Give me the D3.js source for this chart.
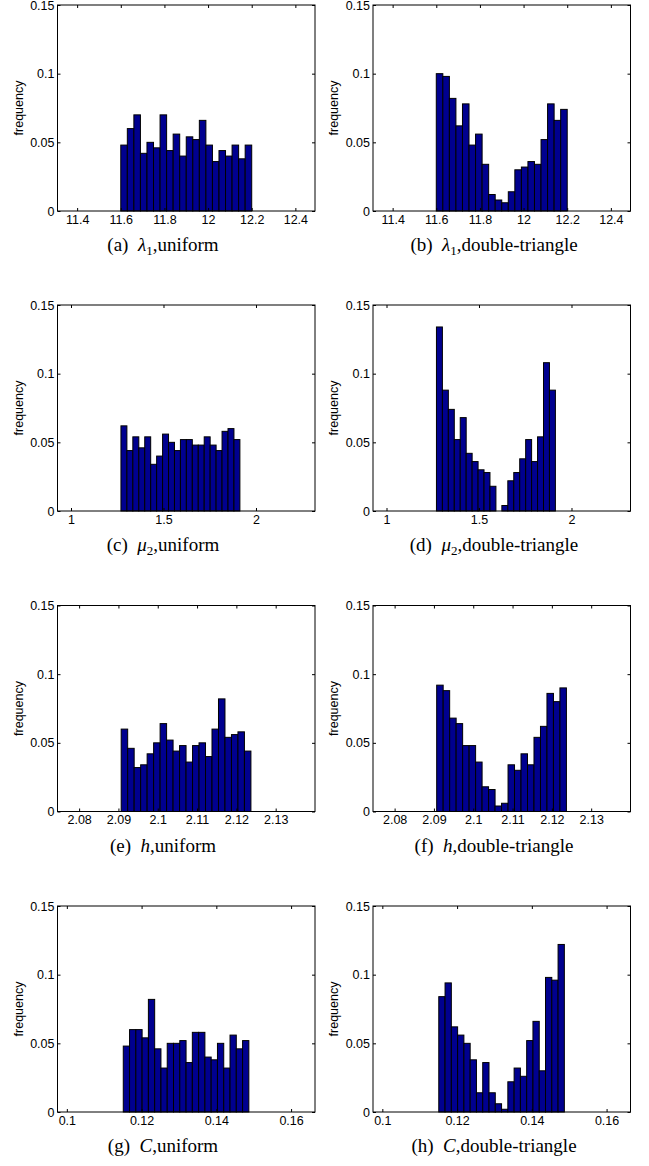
<!DOCTYPE html>
<html>
<head>
<meta charset="utf-8">
<script src="https://cdn.jsdelivr.net/npm/d3@7"></script>
<style>
 body { margin: 0; background: #fff; }
 .tick text { font-family: "Liberation Sans", Arial, sans-serif; font-size: 12.5px; fill: #000; }
 .ylab { font-family: "Liberation Sans", Arial, sans-serif; font-size: 12.5px; }
 .cap { font-family: "Liberation Serif", "Times New Roman", serif; font-size: 19px; }
</style>
</head>
<body>
<script>
 // *** histogram frequencies, 20 bins each
 var lambdaUniform = [0.048, 0.060, 0.070, 0.042, 0.050, 0.046, 0.070, 0.044, 0.056, 0.040, 0.054, 0.052, 0.066, 0.048, 0.036, 0.044, 0.040, 0.048, 0.038, 0.048];
 var lambdaDouble = [0.100, 0.098, 0.082, 0.062, 0.078, 0.048, 0.056, 0.034, 0.012, 0.008, 0.006, 0.014, 0.030, 0.032, 0.036, 0.034, 0.052, 0.078, 0.066, 0.074];
 var muUniform = [0.062, 0.044, 0.054, 0.046, 0.054, 0.034, 0.040, 0.056, 0.050, 0.044, 0.052, 0.052, 0.048, 0.048, 0.054, 0.048, 0.044, 0.058, 0.060, 0.052];
 var muDouble = [0.134, 0.088, 0.074, 0.052, 0.068, 0.042, 0.036, 0.030, 0.028, 0.018, 0.000, 0.004, 0.022, 0.028, 0.038, 0.052, 0.036, 0.054, 0.108, 0.088];
 var hUniform = [0.060, 0.046, 0.032, 0.034, 0.042, 0.050, 0.064, 0.052, 0.044, 0.048, 0.036, 0.048, 0.050, 0.040, 0.060, 0.082, 0.054, 0.056, 0.058, 0.044];
 var hDouble = [0.092, 0.088, 0.068, 0.064, 0.048, 0.048, 0.036, 0.018, 0.016, 0.004, 0.006, 0.034, 0.030, 0.042, 0.034, 0.054, 0.062, 0.086, 0.080, 0.090];
 var cUniform = [0.048, 0.060, 0.060, 0.054, 0.082, 0.046, 0.032, 0.050, 0.050, 0.052, 0.036, 0.058, 0.058, 0.040, 0.038, 0.050, 0.032, 0.056, 0.046, 0.052];
 var cDouble = [0.084, 0.094, 0.062, 0.056, 0.050, 0.038, 0.014, 0.036, 0.014, 0.006, 0.002, 0.022, 0.032, 0.026, 0.052, 0.066, 0.030, 0.098, 0.096, 0.122];

 // *** bin ranges (first left edge, last right edge) and axis limits
 var lambdaBins = [11.6, 12.2];
 var muBins = [1.27, 1.913];
 var hBins = [2.0907, 2.1237];
 var cBins = [0.1151, 0.1487];

 var lambdaXlim = [11.31, 12.49];
 var muXlim = [0.927, 2.319];
 var hXlim = [2.0745, 2.140];
 var cXlim = [0.0975, 0.1664];

 // *** tick labels
 var lambdaTicks = [11.4, 11.6, 11.8, 12, 12.2, 12.4];
 var muTicks = [1, 1.5, 2];
 var hTicks = [2.08, 2.09, 2.1, 2.11, 2.12, 2.13];
 var cTicks = [0.1, 0.12, 0.14, 0.16];
 var yTicks = [0, 0.05, 0.1, 0.15];
 var yLimit = [0, 0.15];

 var captions = [
  ["(a)", "λ", "1", "uniform"], ["(b)", "λ", "1", "double-triangle"],
  ["(c)", "μ", "2", "uniform"], ["(d)", "μ", "2", "double-triangle"],
  ["(e)", "h", "", "uniform"], ["(f)", "h", "", "double-triangle"],
  ["(g)", "C", "", "uniform"], ["(h)", "C", "", "double-triangle"]
 ];

 var rows = [
  { bins: lambdaBins, xlim: lambdaXlim, ticks: lambdaTicks, left: lambdaUniform, right: lambdaDouble },
  { bins: muBins, xlim: muXlim, ticks: muTicks, left: muUniform, right: muDouble },
  { bins: hBins, xlim: hXlim, ticks: hTicks, left: hUniform, right: hDouble },
  { bins: cBins, xlim: cXlim, ticks: cTicks, left: cUniform, right: cDouble }
 ];

 // *** begin drawing:
 var width = 649;
 var height = 1166;
 var colX = [57.5, 373];
 var plotWidth = 257.5;
 var rowTop = [5, 305, 605.5, 906];
 var plotHeight = 206;
 var capCenter = [163, 494];

 var svg = d3.select("body").append("svg")
  .attr("width", width)
  .attr("height", height);

 var fmt = function(d) { return String(+d.toFixed(4)); };

 rows.forEach(function(row, r) {
  [row.left, row.right].forEach(function(values, c) {
   var g = svg.append("g")
    .attr("transform", "translate(" + colX[c] + "," + rowTop[r] + ")");

   var xScale = d3.scaleLinear().domain(row.xlim).range([0, plotWidth]);
   var yScale = d3.scaleLinear().domain(yLimit).range([plotHeight, 0]);
   var binW = (row.bins[1] - row.bins[0]) / values.length;

   g.selectAll("rect.bar")
    .data(values)
    .enter()
    .append("rect")
    .attr("class", "bar")
    .attr("x", function(d, i) { return xScale(row.bins[0] + i * binW); })
    .attr("width", function(d, i) { return xScale(row.bins[0] + (i + 1) * binW) - xScale(row.bins[0] + i * binW); })
    .attr("y", function(d) { return yScale(d); })
    .attr("height", function(d) { return plotHeight - yScale(d); })
    .attr("fill", "#00008f")
    .attr("stroke", "#000")
    .attr("stroke-width", 1);

   // x axis (bottom with labels, top mirrored ticks)
   g.append("g")
    .attr("transform", "translate(0," + plotHeight + ")")
    .call(d3.axisBottom(xScale).tickValues(row.ticks).tickSizeInner(-3).tickSizeOuter(0).tickPadding(4).tickFormat(fmt));
   g.append("g")
    .call(d3.axisTop(xScale).tickValues(row.ticks).tickSizeInner(-3).tickSizeOuter(0).tickFormat(""));

   // y axis (left with labels, right mirrored ticks)
   g.append("g")
    .call(d3.axisLeft(yScale).tickValues(yTicks).tickSizeInner(-3).tickSizeOuter(0).tickPadding(3).tickFormat(fmt));
   g.append("g")
    .attr("transform", "translate(" + plotWidth + ",0)")
    .call(d3.axisRight(yScale).tickValues(yTicks).tickSizeInner(-3).tickSizeOuter(0).tickFormat(""));

   g.selectAll(".domain").remove();
   g.selectAll(".tick line").attr("stroke", "#000");

   // box
   g.append("rect")
    .attr("width", plotWidth)
    .attr("height", plotHeight)
    .attr("fill", "none")
    .attr("stroke", "#000")
    .attr("stroke-width", 1);

   // y axis label
   g.append("text")
    .attr("class", "ylab")
    .attr("transform", "translate(-35," + plotHeight / 2 + ") rotate(-90)")
    .style("text-anchor", "middle")
    .text("frequency");

   // caption
   var cap = captions[r * 2 + c];
   var t = svg.append("text")
    .attr("class", "cap")
    .attr("x", capCenter[c])
    .attr("y", rowTop[r] + plotHeight + 40)
    .style("text-anchor", "middle");
   t.append("tspan").text(cap[0] + "\u2002");
   t.append("tspan").style("font-style", "italic").text(cap[1]);
   if (cap[2]) {
    t.append("tspan").attr("dy", 4).style("font-size", "13px").text(cap[2]);
    t.append("tspan").attr("dy", -4).text("," + cap[3]);
   } else {
    t.append("tspan").text("," + cap[3]);
   }
  });
 });
</script>
</body>
</html>
